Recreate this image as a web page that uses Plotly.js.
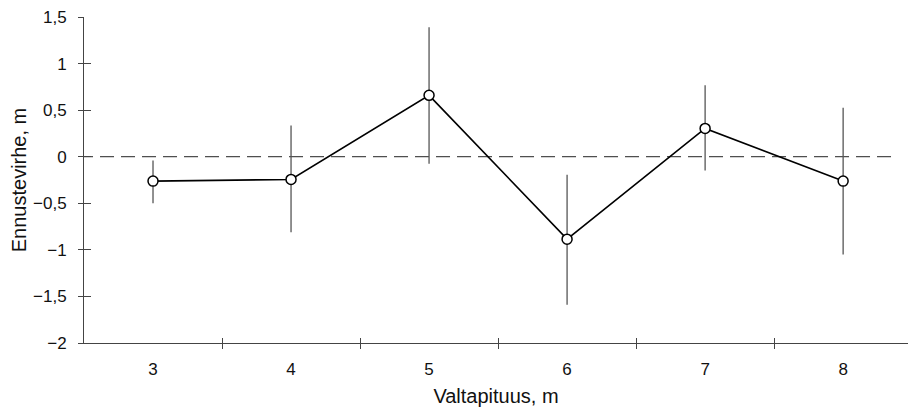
<!DOCTYPE html>
<html>
<head>
<meta charset="utf-8">
<script src="https://cdn.plot.ly/plotly-3.0.1.min.js"></script>
<style>html,body{margin:0;padding:0;background:#fff;overflow:hidden;}</style>
</head>
<body>
<div id="chart" style="width:908px;height:411px;"></div>
<script>
// Data
var lengths = [3, 4, 5, 6, 7, 8];
var lengthLabels = ["3", "4", "5", "6", "7", "8"];
var meanError = [-0.262, -0.244, 0.659, -0.885, 0.304, -0.262];
var upperBound = [-0.04, 0.335, 1.39, -0.193, 0.766, 0.527];
var lowerBound = [-0.50, -0.81, -0.075, -1.59, -0.147, -1.05];
var boundaries = [3.5, 4.5, 5.5, 6.5, 7.5];
var yTickVals = [-2, -1.5, -1, -0.5, 0, 0.5, 1, 1.5];
var yTickText = ["\u22122", "\u22121,5", "\u22121", "\u22120,5", "0", "0,5", "1", "1,5"];

var errPlus = meanError.map(function (v, i) { return upperBound[i] - v; });
var errMinus = meanError.map(function (v, i) { return v - lowerBound[i]; });

var xRange = [2.5, 8.47];
var yRange = [-2, 1.5];
var axisColor = "#444";

var main = {
  x: lengths, y: meanError, type: "scatter", mode: "lines+markers",
  line: { color: "#000", width: 1.6 },
  marker: { symbol: "circle", size: 10, color: "#fff", line: { color: "#000", width: 1.5 } },
  error_y: { type: "data", symmetric: false, array: errPlus, arrayminus: errMinus,
             color: "#555", thickness: 1.3, width: 0 },
  hoverinfo: "skip", showlegend: false, cliponaxis: false
};
var dummy2 = { x: lengths, y: meanError, xaxis: "x2", yaxis: "y2", mode: "markers",
  marker: { opacity: 0 }, hoverinfo: "skip", showlegend: false };
var dummy3 = { x: lengths, y: meanError, xaxis: "x3", yaxis: "y3", mode: "markers",
  marker: { opacity: 0 }, hoverinfo: "skip", showlegend: false };

var font = { family: "Liberation Sans, Arial, sans-serif", size: 17, color: "#111" };

var layout = {
  width: 908, height: 411,
  margin: { l: 84, r: 0, t: 17, b: 68 },
  paper_bgcolor: "#fff", plot_bgcolor: "#fff",
  font: font,
  showlegend: false,
  xaxis: {
    range: xRange, tickvals: lengths, ticktext: lengthLabels,
    ticks: "", showgrid: false, zeroline: false,
    showline: true, linecolor: axisColor, linewidth: 1,
    ticklabelstandoff: 11,
    tickfont: { size: 17 },
    title: { text: "Valtapituus, m", font: { size: 20 }, standoff: 10 }
  },
  xaxis2: {
    overlaying: "x", anchor: "y", range: xRange, tickvals: boundaries,
    ticks: "outside", ticklen: 5, tickcolor: axisColor, tickwidth: 1,
    showticklabels: false, showgrid: false, zeroline: false, showline: false
  },
  xaxis3: {
    overlaying: "x", anchor: "y", range: xRange, tickvals: boundaries,
    ticks: "inside", ticklen: 5, tickcolor: axisColor, tickwidth: 1,
    showticklabels: false, showgrid: false, zeroline: false, showline: false
  },
  yaxis: {
    range: yRange, tickvals: yTickVals, ticktext: yTickText,
    ticks: "outside", ticklen: 5, tickcolor: axisColor, tickwidth: 1,
    showgrid: false, zeroline: false,
    showline: true, linecolor: axisColor, linewidth: 1,
    ticklabelstandoff: 8,
    tickfont: { size: 17 },
    title: { text: "Ennustevirhe, m", font: { size: 20 }, standoff: 1 }
  },
  yaxis2: {
    overlaying: "y", anchor: "x", range: yRange, tickvals: yTickVals,
    ticks: "inside", ticklen: 7, tickcolor: axisColor, tickwidth: 1,
    showticklabels: false, showgrid: false, zeroline: false, showline: false
  },
  yaxis3: {
    overlaying: "y", anchor: "x", range: yRange, tickvals: yTickVals,
    ticks: "", showticklabels: false, showgrid: false, zeroline: false, showline: false
  },
  shapes: [{
    type: "line", xref: "x", yref: "y", x0: 2.464, x1: 8.391, y0: 0, y1: 0,
    line: { color: "#222", width: 1, dash: "14px,7px" }, layer: "below"
  }]
};

Plotly.newPlot("chart", [dummy2, dummy3, main], layout, { staticPlot: true, displayModeBar: false });
</script>
</body>
</html>
